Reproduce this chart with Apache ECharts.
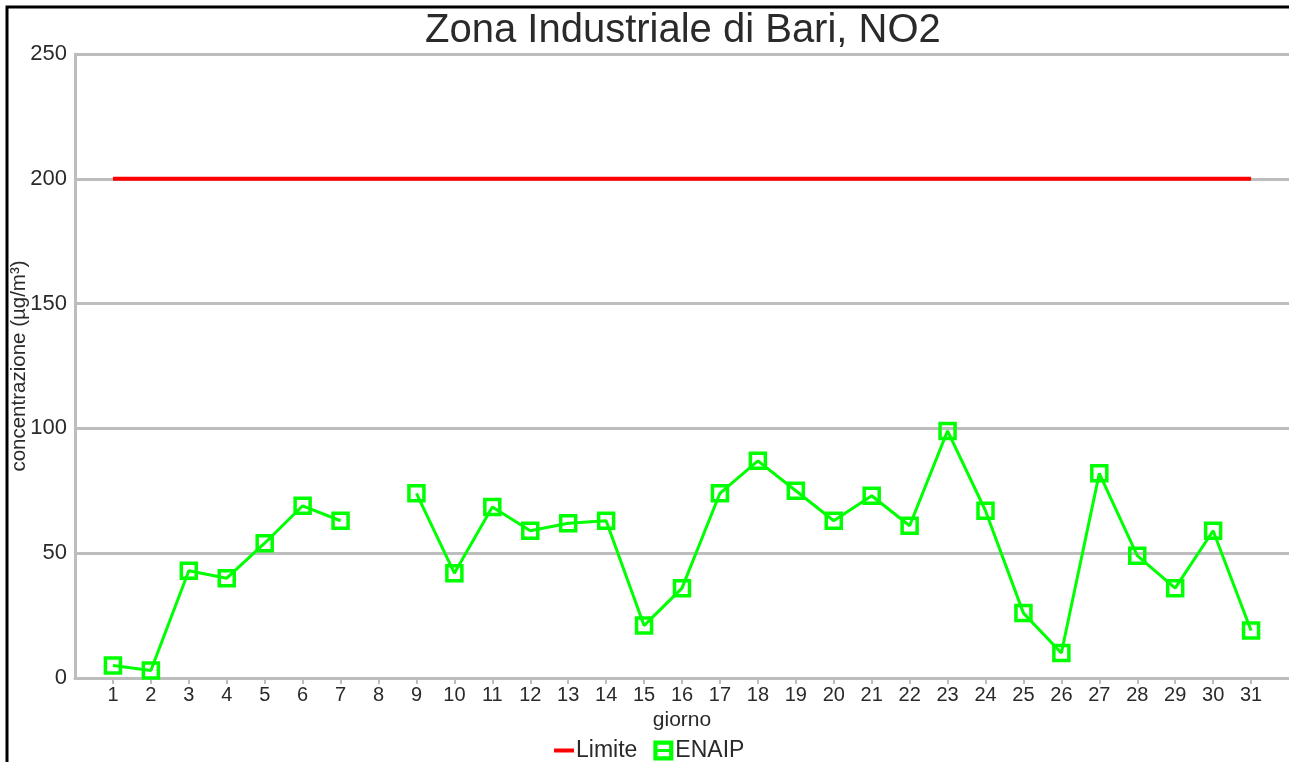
<!DOCTYPE html>
<html><head><meta charset="utf-8">
<script src="https://cdn.jsdelivr.net/npm/echarts@6/dist/echarts.min.js"></script>
<style>html,body{margin:0;padding:0;background:#fff}#c{width:1289px;height:762px}</style>
</head><body><div id="c"></div>
<script>
const days = [1,2,3,4,5,6,7,8,9,10,11,12,13,14,15,16,17,18,19,20,21,22,23,24,25,26,27,28,29,30,31];
const enaip = [5,3,43,40,54,69,63,null,74,42,68.5,59,62,63,21,36,74,87,75,63,73,61,99,67,26,10,82,49,36,59,19];
const limite = [200,200];
const limiteDays = [1,31];
const yTicks = [0,50,100,150,200,250];

const chart = echarts.init(document.getElementById('c'));
chart.setOption({
  animation:false,
  backgroundColor:'#fff',
  textStyle:{fontFamily:'Liberation Sans'},
  title:{text:'Zona Industriale di Bari, NO2',left:420,top:6,
    textStyle:{fontSize:40,fontWeight:'normal',color:'#2a2a2a',fontFamily:'Liberation Sans'}},
  graphic:[{type:'rect',shape:{x:7,y:7,width:1400,height:900},
    style:{fill:'none',stroke:'#000',lineWidth:3},z:100}],
  grid:{left:75,right:0,top:54,bottom:84,outerBoundsMode:'none',containLabel:false},
  legend:{top:734,left:549,itemGap:16,itemWidth:20,itemHeight:20,
    textStyle:{fontSize:23,color:'#2a2a2a',fontFamily:'Liberation Sans',padding:[0,0,0,-3]},
    data:[{name:'Limite',icon:'path://M0,8 L20,8 L20,12 L0,12 Z'},
          {name:'ENAIP',
           icon:'path://M0,0 L19,0 L19,4 L0,4 Z M0,15 L19,15 L19,19 L0,19 Z M0,4 L4,4 L4,15 L0,15 Z M15,4 L19,4 L19,15 L15,15 Z M4,8 L15,8 L15,11 L4,11 Z',
           itemStyle:{color:'#00ff00',borderWidth:0,borderColor:'#00ff00'}}]},
  xAxis:{type:'value',min:0,max:32,interval:1,
    name:'giorno',nameLocation:'middle',nameGap:32,
    nameTextStyle:{fontSize:21,color:'#2a2a2a'},
    axisLine:{show:true,lineStyle:{color:'#bdbdbd',width:3}},
    axisTick:{show:true,length:6,lineStyle:{color:'#bdbdbd',width:2}},
    splitLine:{show:false},
    axisLabel:{fontSize:20,color:'#2a2a2a',margin:7,
      formatter:v=>(v>=1&&v<=31)?String(v):'',showMinLabel:false,showMaxLabel:false}},
  yAxis:{type:'value',min:0,max:250,interval:50,
    name:'concentrazione (µg/m³)',nameLocation:'middle',nameGap:45.5,nameMoveOverlap:false,
    nameTextStyle:{fontSize:20.5,color:'#2a2a2a'},
    axisLine:{show:true,lineStyle:{color:'#bdbdbd',width:3}},
    axisTick:{show:false},
    splitLine:{show:true,lineStyle:{color:'#bdbdbd',width:3}},
    axisLabel:{fontSize:22,color:'#2a2a2a',margin:8,formatter:v=>yTicks.includes(v)?String(v):''}},
  series:[
    {name:'Limite',type:'line',data:limiteDays.map((d,i)=>[d,limite[i]]),
      showSymbol:false,symbol:'none',lineStyle:{color:'#ff0000',width:4},itemStyle:{color:'#ff0000'},z:3},
    {name:'ENAIP',type:'line',data:days.map((d,i)=>[d,enaip[i]]),connectNulls:false,
      symbol:'rect',symbolSize:15,
      lineStyle:{color:'#00ff00',width:3},
      itemStyle:{color:'rgba(255,255,255,0)',borderColor:'#00ff00',borderWidth:3.5},z:4}
  ]
});
</script></body></html>
